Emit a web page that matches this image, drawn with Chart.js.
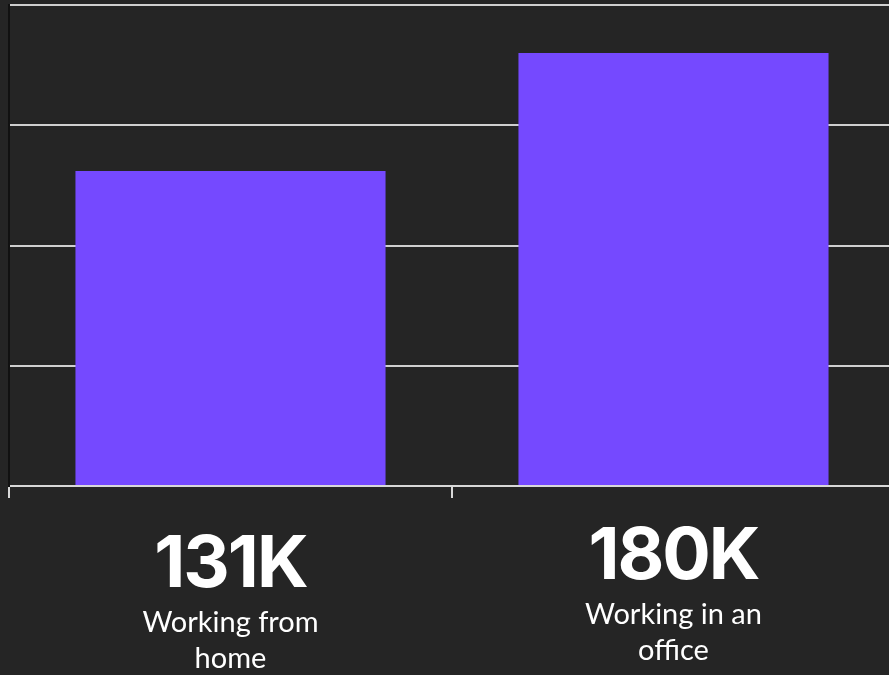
<!DOCTYPE html>
<html>
<head>
<meta charset="utf-8">
<script src="https://cdn.jsdelivr.net/npm/chart.js@4/dist/chart.umd.min.js"></script>
<style>
  html, body { margin: 0; padding: 0; background: #252525; overflow: hidden; }
  #wrap { position: relative; width: 897px; height: 675px; }
</style>
</head>
<body>
<div id="wrap"><canvas id="c"></canvas></div>
<script>
const categories = ["Working from home", "Working in an office"];
const valueLabels = ["131K", "180K"];
const descLines = [["Working from", "home"], ["Working in an", "office"]];
const values = [131000, 180000];
const yTicks = [0, 50000, 100000, 150000, 200000];

const labelPlugin = {
  id: 'bigLabels',
  afterDraw(chart, args, opts) {
    const ctx = chart.ctx;
    const xs = chart.scales.x;
    ctx.save();
    ctx.fillStyle = '#ffffff';
    ctx.textAlign = 'center';
    ctx.textBaseline = 'alphabetic';
    categories.forEach((c, i) => {
      const x = xs.getPixelForValue(i);
      const off = opts.offsets[i] || 0;
      const base = xs.bottom + opts.numBaseline + off;
      ctx.font = '700 72px Inter';
      if ('letterSpacing' in ctx) ctx.letterSpacing = '-2px';
      ctx.fillText(valueLabels[i], x, base);
      if ('letterSpacing' in ctx) ctx.letterSpacing = '0px';
      ctx.font = '400 29px Lato';
      descLines[i].forEach((line, j) => {
        ctx.fillText(line, x, base + opts.descGap + j * opts.lineHeight);
      });
    });
    ctx.restore();
  }
};

new Chart(document.getElementById('c'), {
  type: 'bar',
  data: {
    labels: categories,
    datasets: [{
      data: values,
      backgroundColor: '#7549FF',
      borderWidth: 0,
      barPercentage: 0.7,
      categoryPercentage: 1.0
    }]
  },
  plugins: [labelPlugin],
  options: {
    responsive: true,
    maintainAspectRatio: false,
    animation: false,
    layout: { padding: { top: 5, left: 9, right: 2, bottom: 177 } },
    plugins: {
      legend: { display: false },
      tooltip: { enabled: false },
      bigLabels: { offsets: [0, -8], numBaseline: 89, descGap: 45, lineHeight: 36 }
    },
    scales: {
      x: {
        ticks: { display: false },
        grid: { drawOnChartArea: false, drawTicks: true, tickLength: 12, color: '#d8d8d8', lineWidth: 2 },
        border: { display: true, color: '#d8d8d8', width: 2 }
      },
      y: {
        min: 0, max: 200000,
        afterBuildTicks: (s) => { s.ticks = yTicks.map(v => ({ value: v })); },
        ticks: { display: false },
        grid: {
          drawTicks: false,
          color: (ctx) => ctx.tick && ctx.tick.value === 0 ? '#6a6a6a' : '#cfcfcf',
          lineWidth: 2
        },
        border: { display: true, color: '#111111', width: 2 }
      }
    }
  }
});
</script>
</body>
</html>
